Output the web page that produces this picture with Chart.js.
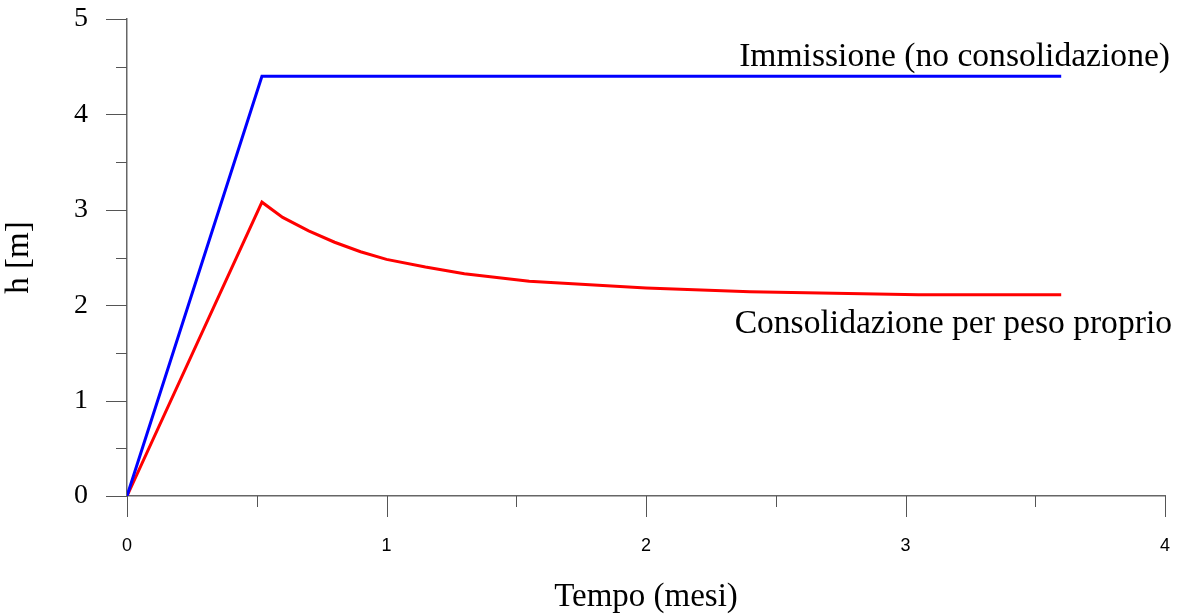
<!DOCTYPE html>
<html lang="it">

<head>
    <meta charset="UTF-8">
    <meta name="viewport" content="width=device-width, initial-scale=1.0">
    <script src="https://cdn.jsdelivr.net/npm/chart.js"></script>
    <title>Altezza del deposito nel tempo</title>
    <style>
        html, body { margin: 0; padding: 0; background: #fff; }
        .container { width: 1177px; height: 614px; position: relative; }
    </style>
    <script>
        // tempo in mesi
        const tempoImmissione = [0, 0.52, 3.6];
        const hImmissione = [0, 4.4, 4.4];

        const tempoConsolidazione = [0, 0.52, 0.6, 0.7, 0.8, 0.9, 1.0, 1.15, 1.3, 1.55, 2.0, 2.4, 3.05, 3.6];
        const hConsolidazione = [0, 3.08, 2.92, 2.78, 2.66, 2.56, 2.48, 2.40, 2.33, 2.25, 2.18, 2.14, 2.11, 2.11];

        const xTicks = [0, 1, 2, 3, 4];
        const yTicks = [0, 1, 2, 3, 4, 5];

        const nomeImmissione = 'Immissione (no consolidazione)';
        const nomeConsolidazione = 'Consolidazione per peso proprio';

        const SERIF = '"Liberation Serif", "Times New Roman", serif';
        const SANS = '"Liberation Sans", Arial, sans-serif';

        function fn_points(xs, ys) {
            return xs.map(function (x, i) { return { x: x, y: ys[i] }; });
        }

        // tacche principali e secondarie (ogni 0.5)
        const tacche = {
            id: 'tacche',
            afterDraw: function (chart) {
                const ctx = chart.ctx;
                const xs = chart.scales.x;
                const ys = chart.scales.y;
                const area = chart.chartArea;
                ctx.save();
                ctx.strokeStyle = '#555';
                ctx.lineWidth = 1;
                ctx.beginPath();
                for (let v = 0; v <= 5; v += 0.5) {
                    const py = Math.round(ys.getPixelForValue(v)) + 0.5;
                    const len = (v % 1 === 0) ? 21 : 11;
                    ctx.moveTo(area.left, py);
                    ctx.lineTo(area.left - len, py);
                }
                for (let v = 0; v <= 4; v += 0.5) {
                    const px = Math.round(xs.getPixelForValue(v)) + 0.5;
                    const len = (v % 1 === 0) ? 21 : 11;
                    ctx.moveTo(px, area.bottom);
                    ctx.lineTo(px, area.bottom + len);
                }
                ctx.stroke();

                // etichette delle curve
                ctx.fillStyle = '#000';
                ctx.font = '33.6px ' + SERIF;
                ctx.textAlign = 'right';
                ctx.textBaseline = 'alphabetic';
                ctx.fillText(nomeImmissione, area.right + 5, ys.getPixelForValue(4.4) - 10);
                ctx.fillText(nomeConsolidazione, area.right + 7, ys.getPixelForValue(2.11) + 38);
                ctx.restore();
            }
        };

        window.addEventListener('load', function () {
            const ctx = document.getElementById('myChart');
            const config = {
                type: 'line',
                data: {
                    datasets: [{
                        label: nomeImmissione,
                        data: fn_points(tempoImmissione, hImmissione),
                        borderColor: '#0000ff',
                        borderWidth: 3,
                        pointRadius: 0,
                        tension: 0,
                        fill: false
                    }, {
                        label: nomeConsolidazione,
                        data: fn_points(tempoConsolidazione, hConsolidazione),
                        borderColor: '#ff0000',
                        borderWidth: 3,
                        pointRadius: 0,
                        tension: 0,
                        fill: false
                    }]
                },
                options: {
                    responsive: false,
                    animation: false,
                    layout: { autoPadding: false, padding: { top: 19, right: 12, bottom: 0, left: 0 } },
                    plugins: {
                        legend: { display: false },
                        tooltip: { enabled: false }
                    },
                    scales: {
                        x: {
                            type: 'linear',
                            min: 0,
                            max: 4,
                            afterBuildTicks: function (scale) {
                                scale.ticks = xTicks.map(function (v) { return { value: v }; });
                            },
                            grid: { display: false, drawTicks: false, tickLength: 0 },
                            border: { display: true, color: '#666', width: 1.5 },
                            ticks: {
                                color: '#000',
                                font: { family: SANS, size: 18 },
                                padding: 39,
                                maxRotation: 0
                            },
                            title: {
                                display: true,
                                text: 'Tempo (mesi)',
                                color: '#000',
                                font: { family: SERIF, size: 33, weight: 'normal' },
                                padding: { top: 0, bottom: -3 }
                            },
                            afterFit: function (scale) {
                                scale.height = 118;
                                scale.paddingLeft = 0;
                                scale.paddingRight = 0;
                            }
                        },
                        y: {
                            type: 'linear',
                            min: 0,
                            max: 5,
                            afterBuildTicks: function (scale) {
                                scale.ticks = yTicks.map(function (v) { return { value: v }; });
                            },
                            grid: { display: false, drawTicks: false, tickLength: 0 },
                            border: { display: true, color: '#666', width: 1.5 },
                            ticks: {
                                color: '#000',
                                font: { family: SERIF, size: 28 },
                                padding: 39
                            },
                            title: {
                                display: true,
                                text: 'h [m]',
                                color: '#000',
                                font: { family: SERIF, size: 33, weight: 'normal' },
                                padding: { top: 0, bottom: 0, left: 19 }
                            },
                            afterFit: function (scale) {
                                scale.width = 127;
                                scale.paddingTop = 0;
                                scale.paddingBottom = 0;
                            }
                        }
                    }
                },
                plugins: [tacche]
            };
            new Chart(ctx, config);
        });
    </script>
</head>

<body>
    <div class="container">
        <canvas id="myChart" width="1177" height="614"></canvas>
    </div>
</body>

</html>
